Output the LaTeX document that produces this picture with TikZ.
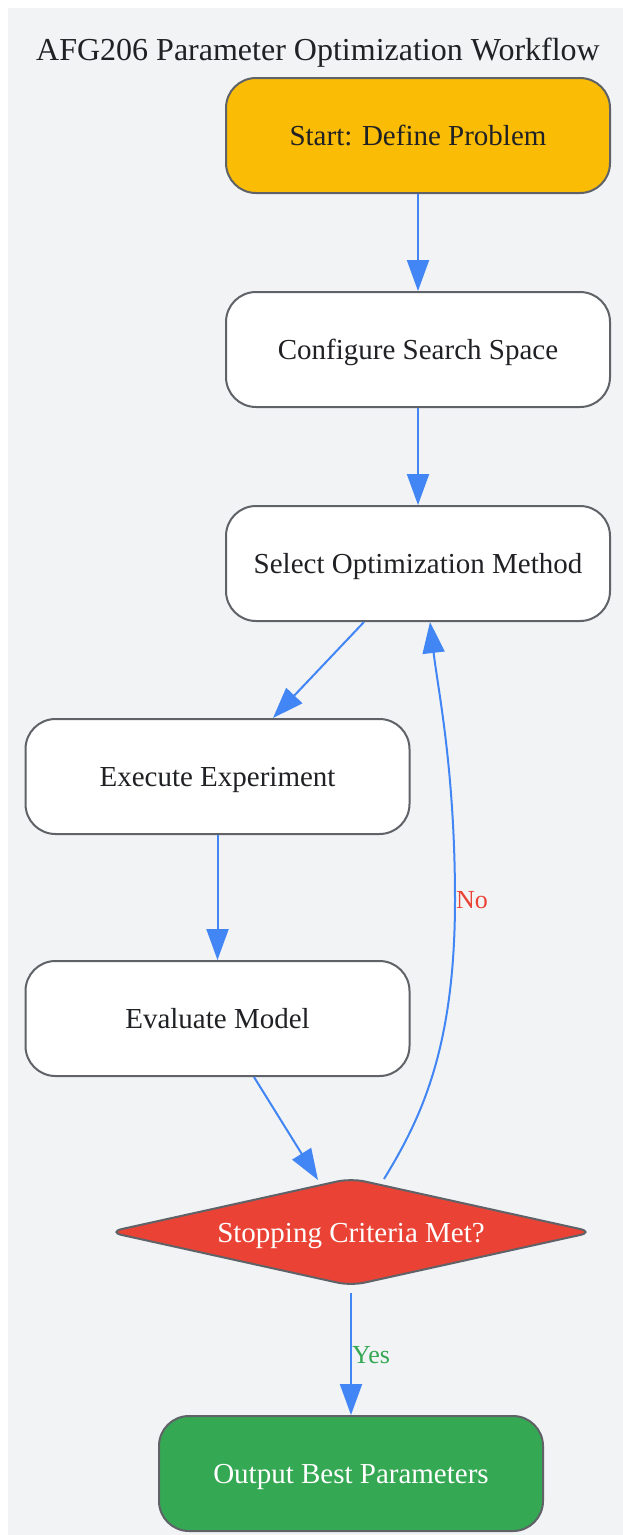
\documentclass[tikz,border=0pt]{standalone}
\usepackage{fontspec}
\setmainfont{Liberation Serif}
\usetikzlibrary{shapes.geometric,arrows.meta,calc}
\definecolor{bgc}{HTML}{F1F3F5}
\definecolor{bordc}{HTML}{5F6368}
\definecolor{txtc}{HTML}{202124}
\definecolor{yel}{HTML}{FBBC05}
\definecolor{redc}{HTML}{EA4335}
\definecolor{grn}{HTML}{34A853}
\definecolor{blu}{HTML}{4285F4}
\tikzset{
  box/.style={draw=bordc, line width=2pt, rounded corners=30pt, minimum width=384pt, minimum height=115pt, inner sep=0pt, font=\fontsize{29}{33}\selectfont, text=txtc, fill=white, text height=27pt, text depth=6.2pt},
  dia/.style={diamond, draw=bordc, line width=2pt, rounded corners=14pt, aspect=4.49, minimum width=486pt, minimum height=108pt, inner sep=0pt, font=\fontsize{29}{33}\selectfont, text=white, fill=redc, text height=27pt, text depth=6.2pt},
  conn/.style={draw=blu, line width=2pt, -{Triangle[length=31pt,width=22pt]}},
  lbl/.style={font=\fontsize{26}{29}\selectfont, inner sep=0pt}
}
\begin{document}
\begin{tikzpicture}[x=1pt,y=-1pt]
\useasboundingbox (0,0) rectangle (623,1535);
\fill[white] (0,0) rectangle (623,1535);
\fill[bgc] (8,8) rectangle (623,1535);
\node[font=\fontsize{32}{36}\selectfont, text=txtc] (title) at (318,53) {AFG206 Parameter Optimization Workflow};
\node[box, fill=yel] (start) at (418,135.5) {Start: Define Problem};
\node[box] (config) at (418,349.5) {Configure Search Space};
\node[box] (select) at (418,563.5) {Select Optimization Method};
\node[box] (exec) at (217.5,776.5) {Execute Experiment};
\node[box] (eval) at (217.5,1018.5) {Evaluate Model};
\node[dia] (stop) at (351,1232) {Stopping Criteria Met?};
\node[box, fill=grn, text=white] (out) at (351,1473.5) {Output Best Parameters};
\draw[conn] (start.south) -- (config.north);
\draw[conn] (config.south) -- (select.north);
\draw[conn] ($(select.south)+(-54,0)$) -- ($(exec.north)+(55.5,0)$);
\draw[conn] (exec.south) -- (eval.north);
\draw[conn] ($(eval.south)+(36.5,0)$) -- ($(stop.north)+(-33,3)$);
\coordinate (nomid) at (455,900);
\draw[conn] ($(stop.north)+(33,2)$) .. controls (420,1120) and (455,1050) .. (nomid) .. controls (455,770) and (438,690) .. ($(select.south)+(12,0)$);
\node[lbl, text=redc] (no) at (472,900) {No};
\draw[conn] ($(stop.south)+(0,6)$) -- (out.north);
\node[lbl, text=grn] (yes) at (371,1355) {Yes};
\end{tikzpicture}
\end{document}
